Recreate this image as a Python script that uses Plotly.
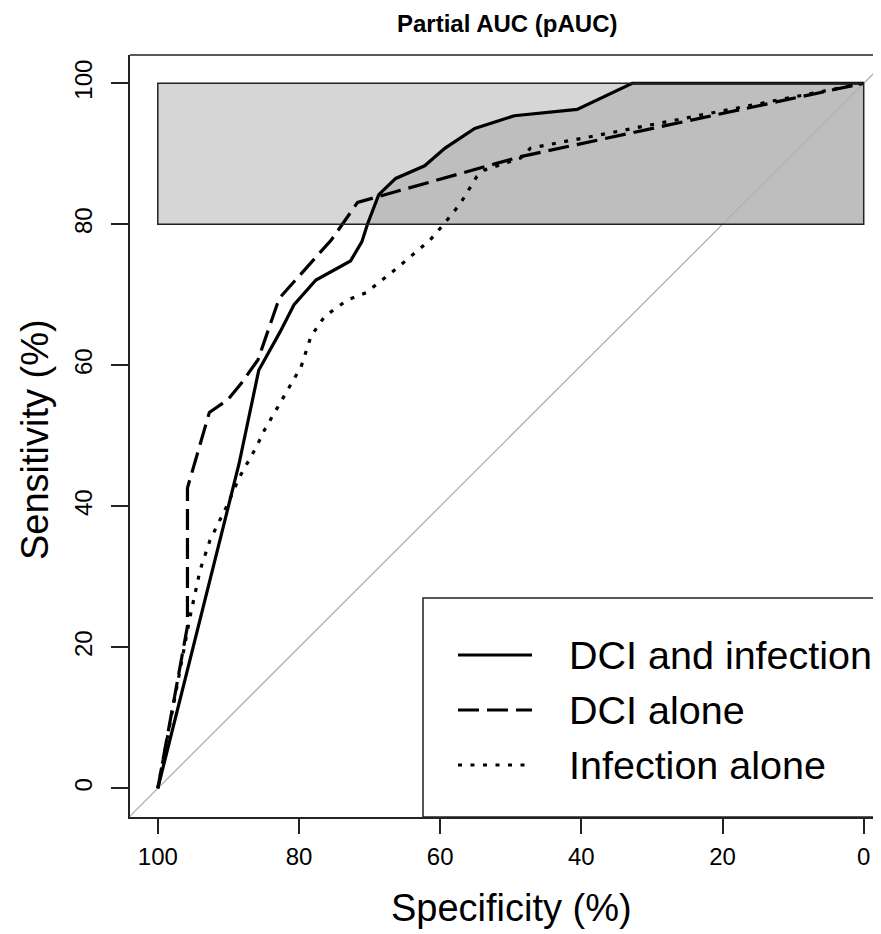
import numpy as np
import plotly.graph_objects as go

# ---------------- data ----------------
series_names = ["DCI and infection", "DCI alone", "Infection alone"]

dci_inf_spec = [100, 88.5, 85.7, 82.7, 80.7, 77.6, 72.7, 71.1, 70.3, 68.7, 66.3, 62.2, 59.3, 55.1, 49.5, 40.6, 32.8, 0]
dci_inf_sens = [0, 46.0, 59.3, 64.7, 68.6, 72.1, 74.8, 77.5, 80.0, 84.2, 86.5, 88.3, 90.8, 93.6, 95.4, 96.3, 100, 100]

dci_spec = [100, 95.8, 95.8, 92.7, 90.1, 88.2, 85.8, 82.8, 75.4, 71.7, 48.6, 0]
dci_sens = [0, 23.0, 42.6, 53.3, 55.1, 57.4, 60.8, 69.5, 77.8, 83.1, 89.6, 100]

inf_spec = [100, 95.4, 94.0, 92.6, 90.1, 88.5, 86.0, 84.9, 79.7, 78.3, 76.4, 73.1, 70.5, 66.1, 61.4,
            59.5, 57.1, 54.8, 53.7, 48.6, 47.2, 37.3, 0]
inf_sens = [0, 24.5, 31.0, 35.2, 40.3, 44.0, 48.5, 50.8, 59.8, 64.1, 66.9, 69.3, 70.3, 73.8, 77.8,
            80.0, 83.0, 86.8, 87.7, 89.4, 90.8, 92.7, 100]

pauc_spec_range = [100, 0]
pauc_sens_range = [80, 100]

tick_vals = [0, 20, 40, 60, 80, 100]
tick_text = ["0", "20", "40", "60", "80", "100"]

title_text = "Partial AUC (pAUC)"
x_title = "Specificity (%)"
y_title = "Sensitivity (%)"

# ---------------- figure ----------------
FONT = "Liberation Sans, Arial, Helvetica, sans-serif"
OFF = 8  # page body margin
W, H = 881 - OFF, 934 - OFF
ML, MT = 130 - OFF, 55 - OFF
PLOT_BOTTOM = 817 - OFF
MR = 0
MB = H - PLOT_BOTTOM
PW = W - ML - MR
PH = PLOT_BOTTOM - MT

def px_x(p):
    return (p - OFF - ML) / PW

def px_y(p):
    return (PLOT_BOTTOM - (p - OFF)) / PH

fig = go.Figure()

# pAUC polygon under the main curve, above the lower sensitivity limit
sc = np.array(dci_inf_spec, dtype=float)
ss = np.array(dci_inf_sens, dtype=float)
lo = pauc_sens_range[0]
mask = ss >= lo
i = int(np.argmax(mask))
x_cross = float(np.interp(lo, [ss[i - 1], ss[i]], [sc[i - 1], sc[i]]))
poly_x = [x_cross] + list(sc[mask]) + [pauc_spec_range[1], x_cross]
poly_y = [lo] + list(ss[mask]) + [lo, lo]
fig.add_trace(go.Scatter(x=poly_x, y=poly_y, mode="lines", fill="toself",
                         fillcolor="#BEBEBE", line=dict(width=0, color="rgba(0,0,0,0)"),
                         hoverinfo="skip", showlegend=False))

# identity line
diag_x = [110, -10]
diag_y = [100 - v for v in diag_x]
fig.add_trace(go.Scatter(x=diag_x, y=diag_y, mode="lines",
                         line=dict(color="#B0B0B0", width=1.3),
                         hoverinfo="skip", showlegend=False))

dashes = ["solid", "21px,8px", "4px,8.5px"]
curves = [(dci_inf_spec, dci_inf_sens), (dci_spec, dci_sens), (inf_spec, inf_sens)]
for (xs, ys), nm, d in zip(curves, series_names, dashes):
    fig.add_trace(go.Scatter(x=xs, y=ys, mode="lines", name=nm,
                             line=dict(color="black", width=3.2, dash=d),
                             showlegend=False))

shapes = []
shapes.append(dict(type="rect", xref="x", yref="y",
                   x0=pauc_spec_range[0], x1=pauc_spec_range[1],
                   y0=pauc_sens_range[0], y1=pauc_sens_range[1],
                   fillcolor="#D6D6D6", line=dict(width=0), layer="below"))
shapes.append(dict(type="rect", xref="x", yref="y",
                   x0=pauc_spec_range[0], x1=pauc_spec_range[1],
                   y0=pauc_sens_range[0], y1=pauc_sens_range[1],
                   fillcolor="rgba(0,0,0,0)", line=dict(width=1.5, color="#222222"), layer="above"))
shapes.append(dict(type="line", xref="paper", yref="paper", x0=0, x1=1, y0=1, y1=1,
                   line=dict(color="#222222", width=1.5)))

# legend box
shapes.append(dict(type="rect", xref="paper", yref="paper",
                   x0=px_x(423), x1=px_x(895), y0=0, y1=px_y(598),
                   fillcolor="white", line=dict(color="#222222", width=1.5), layer="above"))

annotations = []
row_y = [655, 710, 765]
for nm, d, ry in zip(series_names, dashes, row_y):
    shapes.append(dict(type="line", xref="paper", yref="paper",
                       x0=px_x(458), x1=px_x(532), y0=px_y(ry), y1=px_y(ry),
                       line=dict(color="black", width=3.2, dash=d), layer="above"))
    annotations.append(dict(text=nm, xref="paper", yref="paper", x=px_x(567), y=px_y(ry),
                            xanchor="left", yanchor="middle", showarrow=False,
                            font=dict(family=FONT, size=39.5, color="black")))

annotations.append(dict(text="<b>" + title_text + "</b>", xref="paper", yref="paper",
                        x=px_x(506.5), y=px_y(23), xanchor="center", yanchor="middle",
                        showarrow=False, font=dict(family=FONT, size=24, color="black")))
annotations.append(dict(text=x_title, xref="paper", yref="paper",
                        x=px_x(511.5), y=px_y(908), xanchor="center", yanchor="middle",
                        showarrow=False, font=dict(family=FONT, size=38, color="black")))
annotations.append(dict(text=y_title, xref="paper", yref="paper",
                        x=px_x(35), y=px_y(440), xanchor="center", yanchor="middle",
                        textangle=-90, showarrow=False,
                        font=dict(family=FONT, size=38, color="black")))

fig.update_layout(
    width=W, height=H,
    margin=dict(l=ML, r=MR, t=MT, b=MB, pad=0),
    paper_bgcolor="white", plot_bgcolor="white",
    showlegend=False,
    shapes=shapes, annotations=annotations,
    font=dict(family=FONT, color="black"),
)
fig.update_xaxes(range=[103.94, -2.45], tickvals=tick_vals, ticktext=tick_text,
                 showgrid=False, zeroline=False, showline=True, linecolor="#222222", linewidth=1.5,
                 ticks="outside", ticklen=15, tickwidth=1.5, tickcolor="#222222",
                 tickfont=dict(family=FONT, size=24, color="black"), ticklabelstandoff=2)
fig.update_yaxes(range=[-4.07, 104.01], tickvals=tick_vals, ticktext=tick_text,
                 showgrid=False, zeroline=False, showline=True, linecolor="#222222", linewidth=1.5,
                 ticks="outside", ticklen=17, tickwidth=1.5, tickcolor="#222222", tickangle=-90,
                 tickfont=dict(family=FONT, size=24, color="black"), ticklabelstandoff=10)

fig.write_html("out.html")
